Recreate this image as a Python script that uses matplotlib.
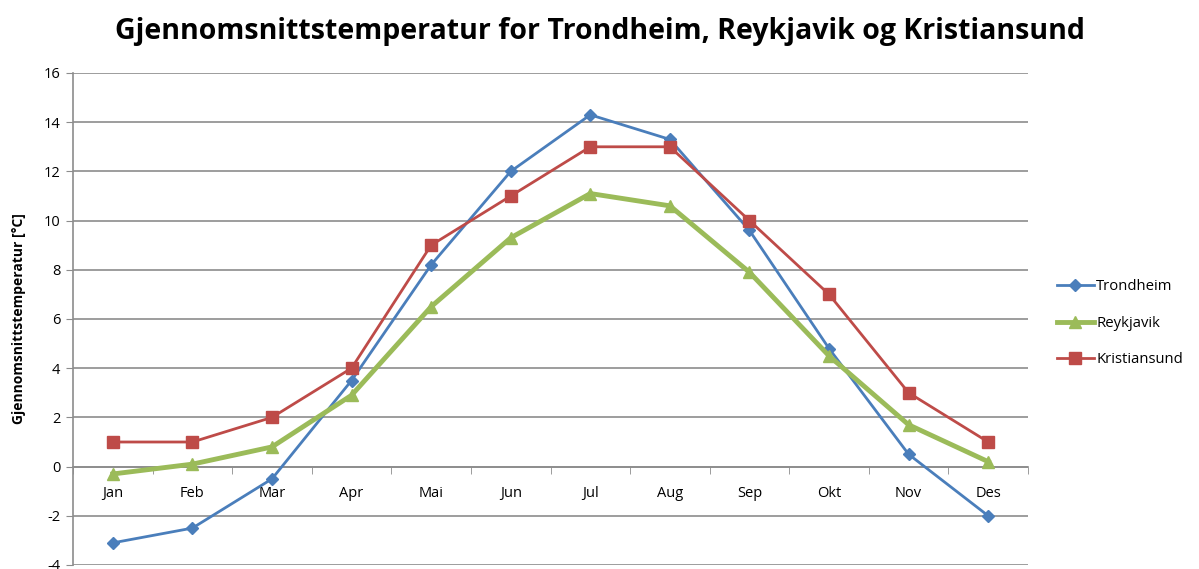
import matplotlib
matplotlib.use("Agg")
import matplotlib.pyplot as plt
import numpy as np

months = ["Jan", "Feb", "Mar", "Apr", "Mai", "Jun", "Jul", "Aug", "Sep", "Okt", "Nov", "Des"]
trondheim = [-3.1, -2.5, -0.5, 3.5, 8.2, 12.0, 14.3, 13.3, 9.6, 4.8, 0.5, -2.0]
reykjavik = [-0.3, 0.1, 0.8, 2.9, 6.5, 9.3, 11.1, 10.6, 7.9, 4.5, 1.7, 0.2]
kristiansund = [1, 1, 2, 4, 9, 11, 13, 13, 10, 7, 3, 1]
yticks = [-4, -2, 0, 2, 4, 6, 8, 10, 12, 14, 16]

plt.rcParams['font.family'] = ['Open Sans', 'DejaVu Sans']

fig = plt.figure(figsize=(11.99, 5.69), dpi=100)
ax = fig.add_axes([73/1199, 1-565/569, (1028-73)/1199, (565-73)/569])

x = np.arange(len(months))
ax.plot(x, trondheim, color='#4A7EBB', lw=2, marker='D', ms=6, label='Trondheim', zorder=3)
ax.plot(x, reykjavik, color='#9BBB59', lw=3.5, marker='^', ms=8, label='Reykjavik', zorder=3)
ax.plot(x, kristiansund, color='#BE4B48', lw=2, marker='s', ms=8, label='Kristiansund', zorder=3)

ax.set_xlim(-0.5, len(months) - 0.5)
ax.set_ylim(-4, 16)
ax.set_yticks(yticks)
ax.set_yticklabels([str(v) for v in yticks], fontsize=10.5)
ax.yaxis.grid(True, color='#8C8C8C', lw=1.2)
ax.set_axisbelow(True)

ax.spines['top'].set_visible(False)
ax.spines['right'].set_visible(False)
ax.spines['bottom'].set_position(('data', 0))
ax.spines['bottom'].set_color('#8C8C8C')
ax.spines['left'].set_color('#8C8C8C')
ax.spines['left'].set_linewidth(1.2)
ax.spines['bottom'].set_linewidth(1.2)

ax.set_xticks(x)
ax.set_xticklabels(months, fontsize=10.5)
ax.tick_params(axis='x', which='major', length=0, pad=14)
ax.set_xticks(np.arange(-0.5, len(months) + 0.5, 1), minor=True)
ax.tick_params(axis='x', which='minor', length=5, color='#8C8C8C', direction='out')
ax.tick_params(axis='y', length=5, color='#8C8C8C', pad=4)

ax.set_ylabel('Gjennomsnittstemperatur [°C]', fontsize=10, fontweight='bold', labelpad=13)

fig.text(0.5, 1-31/569, 'Gjennomsnittstemperatur for Trondheim, Reykjavik og Kristiansund',
         ha='center', va='center', fontsize=20.5, fontweight='bold')

leg = ax.legend(loc='center left', bbox_to_anchor=(1.016, 0.491), frameon=False,
                fontsize=10.7, handlelength=2.5, handletextpad=0.15, labelspacing=1.45)

fig.savefig('out.png', dpi=100)
